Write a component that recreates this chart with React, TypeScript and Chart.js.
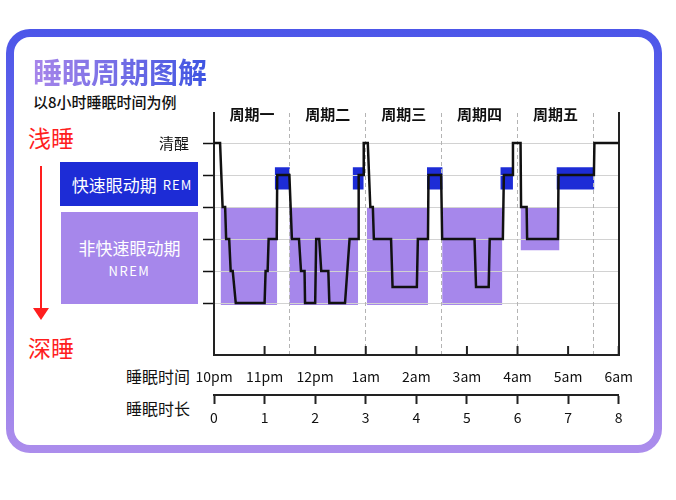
import React, { useEffect, useRef } from 'react';
import { Chart, registerables } from 'chart.js';

Chart.register(...registerables);

// hypnogram: hours since 10pm, stage depth (0 = awake, 1 = REM, 2..5 = NREM light -> deep)
const stageTimes = [
  0, 0.12, 0.17, 0.22, 0.24, 0.3, 0.33, 0.37, 0.43, 1.0, 1.02, 1.06, 1.08, 1.24, 1.25, 1.49,
  1.54, 1.68, 1.72, 1.79, 1.8, 2.0, 2.02, 2.08, 2.12, 2.26, 2.28, 2.59, 2.68, 2.85, 2.86, 2.96, 2.96, 3.04,
  3.09, 3.14, 3.16, 3.5, 3.53, 4.01, 4.03, 4.23, 4.24, 4.49,
  4.51, 5.15, 5.18, 5.43, 5.45, 5.71, 5.73, 5.91, 5.91, 6.06,
  6.07, 6.18, 6.19, 6.8, 6.81, 7.51, 7.52, 8,
];
const stageDepths = [
  0, 0, 2, 2, 3, 3, 4, 4, 5, 5, 4, 4, 3, 3, 1, 1,
  3, 3, 4, 4, 5, 5, 3, 3, 4, 4, 5, 5, 3, 3, 1, 1, 0, 0,
  2, 2, 3, 3, 4.5, 4.5, 3, 3, 1, 1,
  3, 3, 4.5, 4.5, 3, 3, 1, 1, 0, 0,
  2, 2, 3, 3, 1, 1, 0, 0,
];

// REM blocks (blue)
const remStart = [1.2, 2.74, 4.21, 5.66, 6.77];
const remEnd = [1.5, 2.96, 4.52, 5.91, 7.52];
const remTop = [0.76, 0.76, 0.76, 0.76, 0.76];
const remBottom = [1.45, 1.45, 1.45, 1.45, 1.45];

// NREM blocks (purple)
const nremStart = [0.13, 1.49, 3.02, 4.51, 6.06];
const nremEnd = [1.25, 2.85, 4.23, 5.7, 6.83];
const nremTop = [2, 2, 2, 2, 2];
const nremBottom = [5.06, 5.06, 5.06, 5.06, 3.35];

// axes
const stageTicks = [0, 1, 2, 3, 4, 5];
const stageLabels = ['清醒', '', '', '', '', ''];
const hourTicks = [0, 1, 2, 3, 4, 5, 6, 7, 8];
const clockLabels = ['10pm', '11pm', '12pm', '1am', '2am', '3am', '4am', '5am', '6am'];
const durationLabels = ['0', '1', '2', '3', '4', '5', '6', '7', '8'];
const cycleBounds = [1.5, 3, 4.5, 6, 7.5];
const cycleCenters = [0.75, 2.25, 3.75, 5.25, 6.75];
const cycleNames = ['周期一', '周期二', '周期三', '周期四', '周期五'];

const FONT = "'Noto Sans CJK SC', 'Noto Sans', sans-serif";
const BLUE = '#1d2cd6';
const PURPLE = '#a687eb';
const RED = '#ff1e1e';

const Y_MIN = -0.9375;
const Y_MAX = 6.625;
const CYCLE_LABEL_Y = -0.9;

Chart.defaults.font.family = FONT;

const bandDatasets = (
  starts: number[],
  ends: number[],
  tops: number[],
  bottoms: number[],
  color: string
) =>
  starts.flatMap((x0, i) => [
    {
      data: [{ x: x0, y: tops[i] }, { x: ends[i], y: tops[i] }],
      fill: '+1',
      backgroundColor: color,
      borderColor: 'rgba(0,0,0,0)',
      pointRadius: 0,
    },
    {
      data: [{ x: x0, y: bottoms[i] }, { x: ends[i], y: bottoms[i] }],
      fill: false,
      borderColor: 'rgba(0,0,0,0)',
      pointRadius: 0,
    },
  ]);

// cycle names written inside the top of the plot
const cycleNamePlugin = {
  id: 'cycleNames',
  afterDatasetsDraw(chart: Chart) {
    const { ctx } = chart;
    const x = chart.scales.x;
    const y = chart.scales.y;
    ctx.save();
    ctx.font = `bold 15px ${FONT}`;
    ctx.fillStyle = '#111';
    ctx.textAlign = 'center';
    ctx.textBaseline = 'middle';
    cycleCenters.forEach((c, i) => {
      ctx.fillText(cycleNames[i], x.getPixelForValue(c), y.getPixelForValue(CYCLE_LABEL_Y));
    });
    ctx.restore();
  },
};

const SleepChart: React.FC = () => {
  const chartRef = useRef<HTMLCanvasElement>(null);

  useEffect(() => {
    if (!chartRef.current) return;

    const chart = new Chart(chartRef.current, {
      type: 'line',
      data: {
        datasets: [
          {
            data: stageTimes.map((t, i) => ({ x: t, y: stageDepths[i] })),
            borderColor: '#111',
            borderWidth: 2.5,
            borderJoinStyle: 'miter',
            pointRadius: 0,
            fill: false,
            tension: 0,
          },
          // inward tick marks on the time axis
          {
            data: hourTicks.map((h) => ({ x: h, y: Y_MAX - 4.5 / 32 })),
            showLine: false,
            pointStyle: 'line',
            pointRotation: 90,
            pointRadius: 4.5,
            pointBorderWidth: 2,
            pointBorderColor: '#222',
            clip: false,
          },
          ...bandDatasets(remStart, remEnd, remTop, remBottom, BLUE),
          ...bandDatasets(nremStart, nremEnd, nremTop, nremBottom, PURPLE),
        ] as any,
      },
      options: {
        responsive: true,
        maintainAspectRatio: false,
        animation: false,
        events: [],
        layout: { padding: { top: 13, left: 0, right: 0, bottom: 0 } },
        plugins: {
          legend: { display: false },
          tooltip: { enabled: false },
          filler: { drawTime: 'beforeDraw' },
        },
        scales: {
          y: {
            type: 'linear',
            position: 'left',
            reverse: true,
            min: Y_MIN,
            max: Y_MAX,
            afterBuildTicks: (axis) => {
              axis.ticks = stageTicks.map((v) => ({ value: v }));
            },
            afterFit: (axis: any) => {
              axis.width = 64;
              axis.paddingTop = 0;
              axis.paddingBottom = 0;
            },
            ticks: {
              autoSkip: false,
              padding: 14,
              color: '#111',
              font: { size: 15 },
              callback: (_v, i) => stageLabels[i],
            },
            grid: {
              color: '#d2d2d2',
              lineWidth: 1,
              tickLength: 11,
              tickColor: '#111',
              tickWidth: 1.5,
            },
            border: { display: true, color: '#222', width: 2 },
          },
          y2: {
            type: 'linear',
            position: 'right',
            min: Y_MIN,
            max: Y_MAX,
            afterFit: (axis: any) => {
              axis.width = 22;
              axis.paddingTop = 0;
              axis.paddingBottom = 0;
            },
            ticks: { display: false },
            grid: { drawOnChartArea: false, drawTicks: false },
            border: { display: true, color: '#222', width: 2 },
          },
          x: {
            type: 'linear',
            position: 'bottom',
            weight: 0,
            min: 0,
            max: 8,
            afterBuildTicks: (axis) => {
              axis.ticks = hourTicks.map((v) => ({ value: v }));
            },
            afterFit: (axis) => {
              axis.height = 40;
            },
            ticks: {
              autoSkip: false,
              maxRotation: 0,
              padding: 13,
              color: '#111',
              font: { size: 14 },
              callback: (_v, i) => clockLabels[i],
            },
            grid: { drawOnChartArea: false, drawTicks: false },
            border: { display: true, color: '#222', width: 2 },
          },
          x2: {
            type: 'linear',
            position: 'bottom',
            weight: 1,
            min: 0,
            max: 8,
            afterBuildTicks: (axis) => {
              axis.ticks = hourTicks.map((v) => ({ value: v }));
            },
            afterFit: (axis) => {
              axis.height = 45;
            },
            ticks: {
              autoSkip: false,
              maxRotation: 0,
              padding: 5,
              color: '#111',
              font: { size: 14 },
              callback: (_v, i) => durationLabels[i],
            },
            grid: {
              drawOnChartArea: false,
              drawTicks: true,
              tickLength: 9,
              tickColor: '#222',
              tickWidth: 2,
            },
            border: { display: true, color: '#222', width: 2 },
          },
          // dashed cycle boundaries
          cycleLines: {
            type: 'linear',
            position: 'top',
            min: 0,
            max: 8,
            afterBuildTicks: (axis) => {
              axis.ticks = cycleBounds.map((v) => ({ value: v }));
            },
            afterFit: (axis) => {
              axis.height = 0;
            },
            ticks: { display: false },
            grid: { color: '#b4b4b4', lineWidth: 1, drawTicks: false },
            border: { display: false, dash: [4, 3] },
          },
        },
      },
      plugins: [cycleNamePlugin],
    });

    return () => {
      chart.destroy();
    };
  }, []);

  return (
    <div style={{ position: 'absolute', left: 150, top: 100, width: 496, height: 340 }}>
      <canvas ref={chartRef} />
    </div>
  );
};

const abs = (style: React.CSSProperties): React.CSSProperties => ({
  position: 'absolute',
  whiteSpace: 'nowrap',
  ...style,
});

export default function App() {
  return (
    <div
      style={{
        position: 'fixed',
        left: 0,
        top: 0,
        width: 676,
        height: 500,
        background: '#fff',
        fontFamily: FONT,
        overflow: 'hidden',
      }}
    >
      {/* gradient frame */}
      <div
        style={abs({
          left: 6,
          top: 29,
          width: 656,
          height: 424,
          borderRadius: 24,
          padding: 8,
          boxSizing: 'border-box',
          background: 'linear-gradient(180deg, #4c56e9 0%, #ac8dec 100%)',
        })}
      >
        <div style={{ width: '100%', height: '100%', background: '#fff', borderRadius: 16 }} />
      </div>

      <div
        style={abs({
          left: 33,
          top: 57,
          fontSize: 29,
          lineHeight: '29px',
          fontWeight: 700,
          background: 'linear-gradient(90deg, #a886ea 0%, #3e55e2 100%)',
          WebkitBackgroundClip: 'text',
          backgroundClip: 'text',
          color: 'transparent',
        })}
      >
        睡眠周期图解
      </div>
      <div style={abs({ left: 33, top: 94, fontSize: 15, lineHeight: '15px', fontWeight: 500, color: '#111' })}>
        以8小时睡眠时间为例
      </div>

      {/* depth scale */}
      <div style={abs({ left: 28, top: 126, fontSize: 23, lineHeight: '23px', color: RED })}>浅睡</div>
      <div style={abs({ left: 39.5, top: 166, width: 2, height: 143, background: RED })} />
      <div
        style={abs({
          left: 32.5,
          top: 308,
          width: 0,
          height: 0,
          borderLeft: '8px solid transparent',
          borderRight: '8px solid transparent',
          borderTop: `12px solid ${RED}`,
        })}
      />
      <div style={abs({ left: 28, top: 336, fontSize: 23, lineHeight: '23px', color: RED })}>深睡</div>

      {/* legend boxes */}
      <div
        style={abs({
          left: 60,
          top: 162,
          width: 138,
          height: 44,
          background: BLUE,
          color: '#fff',
          display: 'flex',
          alignItems: 'center',
          justifyContent: 'center',
          paddingLeft: 6,
          boxSizing: 'border-box',
        })}
      >
        <span style={{ fontSize: 17 }}>快速眼动期</span>
        <span style={{ fontSize: 13, marginLeft: 6, letterSpacing: 1 }}>REM</span>
      </div>
      <div
        style={abs({
          left: 61,
          top: 212,
          width: 137,
          height: 92,
          background: PURPLE,
          color: '#fff',
        })}
      >
        <div style={abs({ left: 0, width: 137, top: 27, textAlign: 'center', fontSize: 17, lineHeight: '17px' })}>
          非快速眼动期
        </div>
        <div
          style={abs({
            left: 0,
            width: 137,
            top: 52,
            textAlign: 'center',
            fontSize: 13,
            lineHeight: '13px',
            letterSpacing: 1.5,
          })}
        >
          NREM
        </div>
      </div>

      <div style={abs({ left: 126, top: 368, fontSize: 16, lineHeight: '16px', color: '#111' })}>睡眠时间</div>
      <div style={abs({ left: 126, top: 400, fontSize: 16, lineHeight: '16px', color: '#111' })}>睡眠时长</div>

      <SleepChart />
    </div>
  );
}
